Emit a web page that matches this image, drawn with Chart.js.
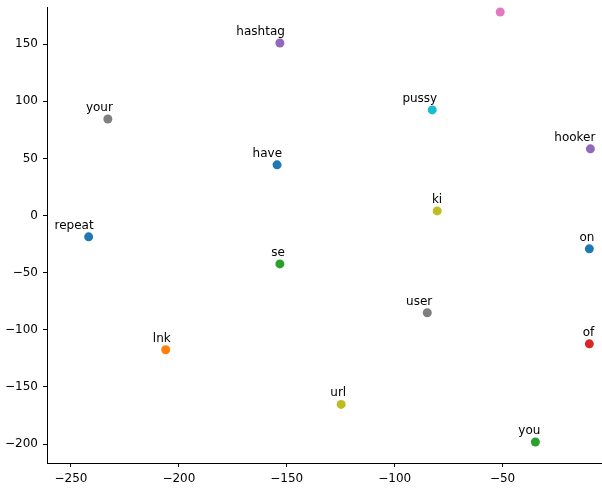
<!DOCTYPE html>
<html>
<head>
<meta charset="utf-8">
<script src="https://cdn.jsdelivr.net/npm/chart.js@4/dist/chart.umd.min.js"></script>
<style>
  html, body { margin: 0; padding: 0; background: #fff; overflow: hidden; }
  /* the plot area is cut off at the right edge of the window, like the reference */
  #wrap { width: 607px; height: 491px; position: relative; }
</style>
</head>
<body>
<div id="wrap"><canvas id="chart"></canvas></div>
<script>
// words and their 2-d embedding coordinates
const words = ['repeat', 'lnk', 'se', 'of', 'hashtag', '', 'your', 'ki', 'pussy',
               'have', 'hooker', 'on', 'user', 'url', 'you'];
const xs = [-241.8, -206.1, -153.2, -9.8, -153.2, -51.1, -232.9, -80.3, -82.6,
            -154.5, -9.3, -9.8, -84.9, -124.8, -34.8];
const ys = [-18.6, -117.5, -42.3, -112.3, 151.1, 178.2, 84.6, 4.1, 92.5,
            44.4, 58.4, -29.1, -85.1, -165.3, -198.2];
const xTicks = [-250, -200, -150, -100, -50];
const yTicks = [-200, -150, -100, -50, 0, 50, 100, 150];

// matplotlib tab10 cycle
const pointColors = ['#1f77b4', '#ff7f0e', '#2ca02c', '#d62728', '#9467bd', '#e377c2',
                     '#7f7f7f', '#bcbd22', '#17becf', '#1f77b4', '#9467bd', '#1f77b4',
                     '#7f7f7f', '#bcbd22', '#2ca02c'];

const points = xs.map((x, i) => ({x: x, y: ys[i]}));

const fmt = v => (v < 0 ? '\u2212' + Math.abs(v) : String(v));

const wordLabels = {
  id: 'wordLabels',
  afterDatasetsDraw(chart) {
    const ctx = chart.ctx;
    const meta = chart.getDatasetMeta(0);
    ctx.save();
    ctx.font = '12px "DejaVu Sans"';
    ctx.fillStyle = '#000';
    ctx.textAlign = 'right';
    ctx.textBaseline = 'alphabetic';
    meta.data.forEach((pt, i) => {
      if (words[i]) ctx.fillText(words[i], pt.x + 5, pt.y - 8);
    });
    ctx.restore();
  }
};

// no extra label overhang padding, so the plot area is fixed
const noPad = s => { s.paddingTop = 0; s.paddingBottom = 0; s.paddingLeft = 0; s.paddingRight = 0; };

const axisCommon = {
  type: 'linear',
  border: { display: true, color: '#000', width: 1 },
  grid: { display: true, drawOnChartArea: false, drawTicks: true, tickLength: 4, color: '#000', lineWidth: 1 },
  ticks: {
    color: '#000',
    font: { family: 'DejaVu Sans', size: 12 },
    callback: v => fmt(v)
  }
};

new Chart('chart', {
  type: 'scatter',
  data: {
    datasets: [{
      data: points,
      pointBackgroundColor: pointColors,
      pointBorderWidth: 0,
      pointRadius: 4.5,
      pointHoverRadius: 4.5
    }]
  },
  options: {
    responsive: true,
    maintainAspectRatio: false,
    animation: false,
    events: [],
    layout: { padding: { top: 7, right: 0, left: 0, bottom: 0 } },
    plugins: { legend: { display: false }, tooltip: { enabled: false } },
    scales: {
      x: Object.assign({}, axisCommon, {
        min: -261.1, max: -3.7,
        ticks: Object.assign({}, axisCommon.ticks, { padding: 5, maxRotation: 0 }),
        afterBuildTicks: s => { s.ticks = xTicks.map(v => ({value: v})); },
        afterFit: s => { s.height = 28; noPad(s); }
      }),
      y: Object.assign({}, axisCommon, {
        min: -216.6, max: 182.6,
        ticks: Object.assign({}, axisCommon.ticks, { padding: 5 }),
        afterBuildTicks: s => { s.ticks = yTicks.map(v => ({value: v})); },
        afterFit: s => { s.width = 47; noPad(s); }
      })
    }
  },
  plugins: [wordLabels]
});
</script>
</body>
</html>
